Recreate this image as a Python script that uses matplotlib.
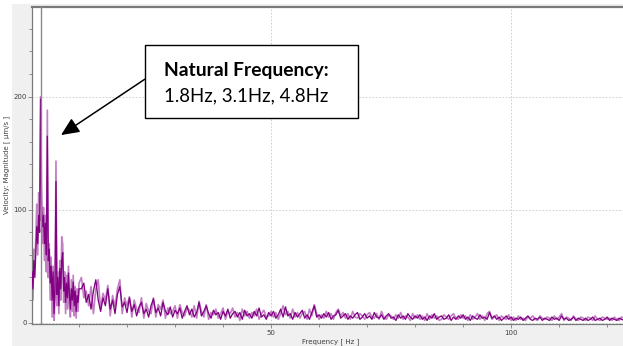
import numpy as np
import matplotlib
matplotlib.use("Agg")
import matplotlib.pyplot as plt
from matplotlib.patches import Rectangle
from matplotlib.ticker import MultipleLocator, FixedLocator

# ---------------- data ----------------
freq_low = np.arange(0.2, 10.01, 0.2)      # 0.2 .. 10.0 Hz
freq_high = np.arange(10.5, 125.01, 0.5)   # 10.5 .. 125 Hz
freq = np.concatenate([freq_low, freq_high])

dark_low = [45, 30, 55, 40, 62, 85, 70, 95, 80, 198,
            100, 85, 95, 70, 88, 60, 165, 55, 65, 35,
            50, 20, 45, 8, 30, 125, 25, 40, 15, 48,
            30, 55, 62, 28, 40, 18, 35, 22, 44, 25,
            12, 30, 20, 36, 15, 28, 10, 24, 18, 30]
light_low = [55, 20, 65, 50, 75, 105, 60, 115, 90, 200,
             110, 70, 102, 55, 95, 45, 188, 40, 70, 20,
             58, 5, 50, 2, 22, 143, 15, 45, 8, 55,
             20, 76, 70, 18, 45, 8, 42, 12, 50, 15,
             5, 38, 10, 42, 6, 32, 4, 30, 10, 35]

dark_high = [30, 35, 18, 25, 12, 28, 38, 20, 10, 22,
             15, 30, 12, 20, 8, 25, 32, 14, 18, 9,
             22, 10, 16, 6, 14, 18, 8, 12, 5, 15,
             21, 9, 13, 6, 18, 10, 7, 14, 5, 11,
             8, 13, 4, 10, 15, 7, 12, 5, 9, 18,
             6, 10, 15, 8, 4, 11, 7, 9, 3, 10,
             6, 12, 4, 8, 10, 5, 9, 3, 11, 6,
             8, 4, 10, 6, 13, 5, 7, 3, 9, 6,
             10, 4, 7, 12, 5, 14, 6, 8, 3, 9,
             5, 8, 11, 4, 7, 3, 9, 15, 5, 7,
             4, 8, 5, 9, 3, 6, 7, 11, 4, 6,
             8, 3, 6, 4, 7, 9, 3, 5, 8, 4,
             6, 3, 9, 5, 4, 7, 3, 6, 8, 4,
             5, 2, 7, 4, 6, 3, 8, 5, 3, 6,
             4, 7, 3, 5, 2, 6, 4, 8, 3, 5,
             6, 3, 4, 7, 2, 5, 3, 6, 4, 7,
             3, 5, 2, 6, 4, 3, 7, 4, 5, 3,
             9, 4, 6, 3, 5, 2, 4, 6, 3, 5,
             2, 4, 3, 5, 2, 4, 6, 3, 2, 4,
             3, 5, 2, 4, 3, 2, 5, 3, 4, 2,
             6, 3, 4, 2, 3, 5, 2, 4, 3, 2,
             4, 2, 3, 5, 2, 3, 4, 2, 3, 5,
             2, 4, 3, 2, 4, 3, 2, 3, 4, 2]
light_high = [40, 22, 28, 15, 32, 8, 30, 38, 12, 26,
              20, 33, 6, 24, 14, 30, 38, 8, 22, 15,
              23, 5, 20, 12, 9, 22, 4, 17, 10, 8,
              22, 5, 16, 12, 20, 4, 13, 8, 10, 15,
              4, 16, 9, 6, 13, 11, 5, 15, 4, 19,
              10, 5, 16, 3, 9, 7, 12, 4, 8, 13,
              3, 10, 8, 13, 5, 9, 2, 12, 6, 10,
              4, 9, 6, 12, 3, 8, 11, 5, 6, 10,
              5, 9, 3, 8, 15, 7, 10, 4, 12, 5,
              9, 4, 8, 10, 3, 12, 6, 16, 8, 3,
              7, 4, 10, 5, 8, 3, 9, 12, 6, 9,
              4, 8, 3, 10, 5, 4, 8, 6, 3, 7,
              9, 5, 4, 8, 3, 10, 5, 3, 7, 6,
              3, 7, 4, 9, 3, 6, 5, 2, 8, 4,
              7, 3, 6, 2, 8, 3, 7, 4, 6, 2,
              3, 7, 5, 3, 6, 8, 4, 3, 7, 4,
              6, 2, 7, 3, 5, 8, 3, 6, 2, 8,
              10, 3, 5, 7, 2, 6, 4, 3, 7, 2,
              5, 2, 6, 3, 4, 2, 5, 4, 6, 3,
              2, 6, 4, 3, 5, 4, 2, 6, 3, 5,
              8, 2, 5, 4, 2, 6, 3, 2, 5, 4,
              2, 5, 4, 2, 6, 3, 2, 5, 4, 3,
              4, 2, 5, 3, 2, 5, 4, 2, 3, 5]

dark = np.array(dark_low + dark_high, dtype=float)
light = np.array(light_low + light_high, dtype=float)

cursor_hz = 2.1
x_ticks = [50, 100]
y_ticks = [0, 100, 200]
x_label = "Frequency [ Hz ]"
y_label = "Velocity: Magnitude [ µm/s ]"
note_title = "Natural Frequency:"
note_body = "1.8Hz, 3.1Hz, 4.8Hz"
arrow_tip = (6.25, 166)

# ---------------- figure ----------------
W, H = 623, 346
fig = plt.figure(figsize=(W / 100, H / 100), dpi=100, facecolor="white")

# light grey window background
fig.patches.append(Rectangle((12 / W, 0), 1, (H - 4) / H, transform=fig.transFigure,
                             facecolor="#f0f0f0", edgecolor="none", zorder=-10))

ax = fig.add_axes([32.3 / W, (H - 324) / H, 1 - 32.3 / W + 0.01, (324 - 6.7) / H])
ax.set_facecolor("white")

ax.plot(freq, light, color="#c27fc4", lw=1.2, zorder=2)
ax.plot(freq, dark, color="#820283", lw=0.95, zorder=3)
ax.axvline(cursor_hz, color="#8a8a8a", lw=1.0, zorder=4)

ax.set_xlim(0.27, 124.6)
ax.set_ylim(-1.15, 279.6)

ax.xaxis.set_major_locator(FixedLocator(x_ticks))
ax.yaxis.set_major_locator(FixedLocator(y_ticks))
ax.xaxis.set_minor_locator(MultipleLocator(10))
ax.yaxis.set_minor_locator(MultipleLocator(20))

ax.grid(True, which="major", color="#c8c8c8", ls=(0, (2, 2)), lw=0.6, zorder=1)
ax.tick_params(which="both", direction="out", colors="#808080", width=0.6,
               labelsize=5, labelcolor="#404040", pad=1)
ax.tick_params(which="major", length=3)
ax.tick_params(which="minor", length=2)

for s in ["left", "bottom"]:
    ax.spines[s].set_color("#7a7a7a")
    ax.spines[s].set_linewidth(0.9)
ax.spines["top"].set_color("#7a7a7a")
ax.spines["top"].set_linewidth(1.6)
ax.spines["right"].set_visible(False)

ax.set_xlabel(x_label, fontsize=5, color="#404040", labelpad=2)
ax.set_ylabel(y_label, fontsize=5, color="#404040", labelpad=2)

# annotation box
bx0, by0, bx1, by1 = 144.7, 44.7, 358, 118
fig.patches.append(Rectangle((bx0 / W, 1 - by1 / H), (bx1 - bx0) / W, (by1 - by0) / H,
                             transform=fig.transFigure, facecolor="white",
                             edgecolor="black", lw=1.0, zorder=20))
fig.text(164 / W, 1 - 75.7 / H, note_title, fontsize=13.9, fontweight="bold",
         family="Lato", va="baseline", ha="left", color="black", zorder=21)
fig.text(164 / W, 1 - 101.7 / H, note_body, fontsize=13.4,
         family="Lato", va="baseline", ha="left", color="black", zorder=21)

ax.annotate("", xy=arrow_tip, xycoords="data",
            xytext=(bx0 / W, 1 - 79.3 / H), textcoords="figure fraction",
            arrowprops=dict(arrowstyle="-|>,head_length=1.0,head_width=0.45",
                            mutation_scale=11, color="black", lw=1.1,
                            shrinkA=0, shrinkB=0),
            annotation_clip=False, zorder=15)

fig.savefig("out.png", dpi=100)
